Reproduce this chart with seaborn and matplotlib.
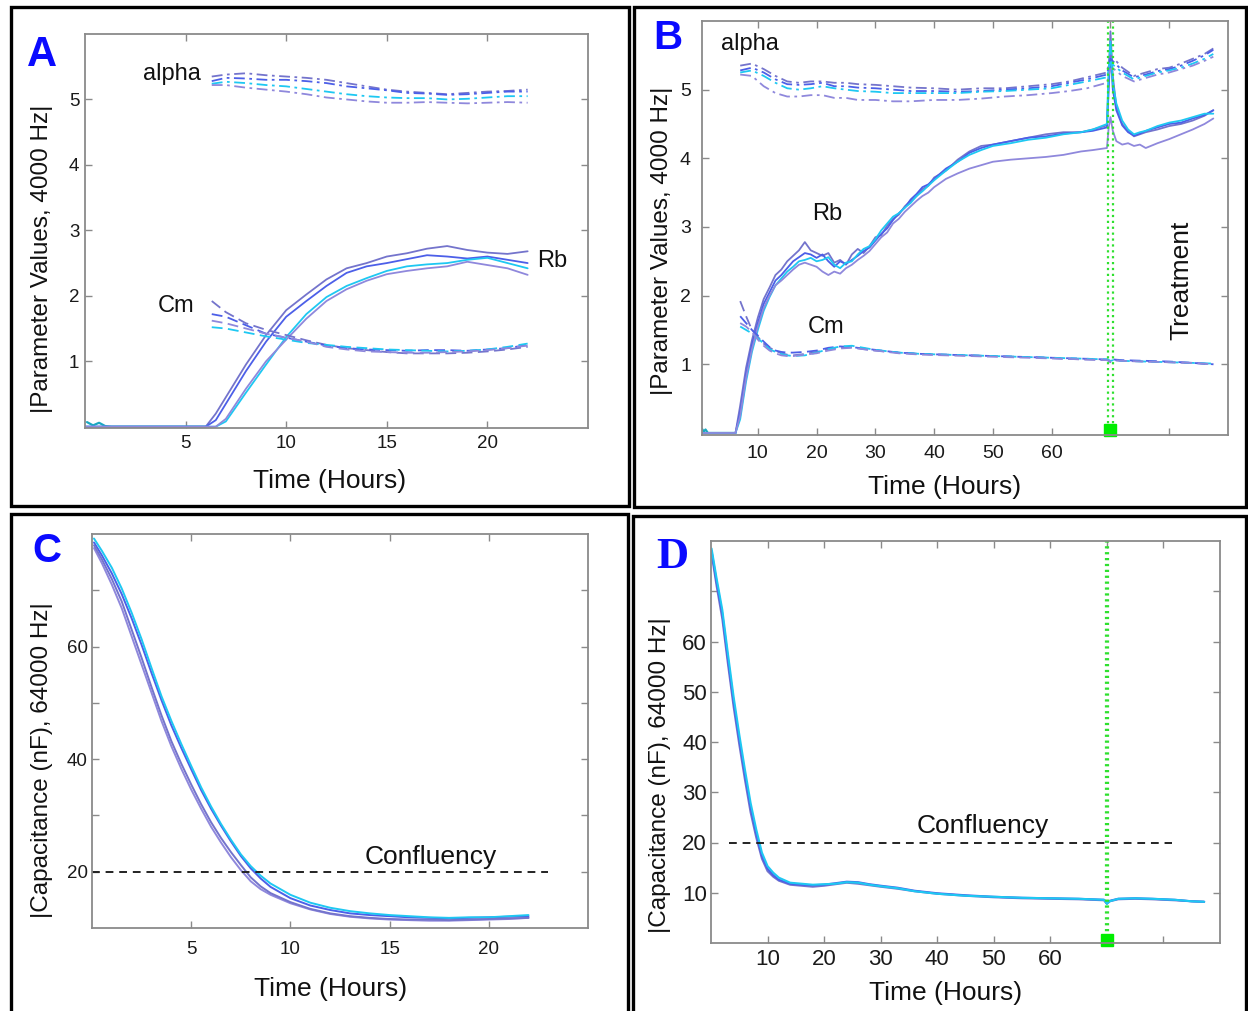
import numpy as np
import pandas as pd
import seaborn as sns
import matplotlib.pyplot as plt
from matplotlib.patches import Rectangle

sns.set_theme(style='ticks')
plt.rcParams['font.family'] = ['Liberation Sans', 'DejaVu Sans']

# line colours (4 replicate wells)
colors4 = ['#7474cc', '#4c5fe8', '#1ec8f2', '#8f88dc']
green = '#2fe02f'

# ---------------- panel A: 0-22 h, 4000 Hz parameters ----------------
a_base_t = [0.1, 0.4, 0.7, 1.0, 1.3, 6.0]
a_base_y = [0.07, 0.02, 0.06, 0.01, 0.0, 0.0]

a_rb_t = [0, 6, 6.5, 7, 7.5, 8, 9, 10, 11, 12, 13, 14, 15, 16, 17, 18, 19, 20, 21, 22]
a_rb1 = [0, 0, 0.2, 0.45, 0.7, 0.95, 1.4, 1.78, 2.02, 2.25, 2.42, 2.5, 2.6, 2.65, 2.72, 2.76, 2.7, 2.66, 2.64, 2.68]
a_rb2 = [0, 0, 0.1, 0.35, 0.6, 0.85, 1.3, 1.68, 1.92, 2.15, 2.35, 2.45, 2.5, 2.56, 2.62, 2.6, 2.57, 2.6, 2.55, 2.5]
a_rb3 = [0, 0, 0, 0.08, 0.3, 0.52, 0.95, 1.37, 1.72, 1.98, 2.15, 2.27, 2.38, 2.45, 2.48, 2.5, 2.55, 2.58, 2.5, 2.42]
a_rb4 = [0, 0, 0, 0.12, 0.35, 0.58, 1.0, 1.33, 1.65, 1.92, 2.1, 2.23, 2.33, 2.38, 2.42, 2.45, 2.52, 2.47, 2.42, 2.32]

a_cm_t = [6.3, 7, 8, 9, 10, 11, 12, 13, 14, 15, 16, 17, 18, 19, 20, 21, 22]
a_cm1 = [1.92, 1.75, 1.58, 1.48, 1.4, 1.32, 1.25, 1.2, 1.17, 1.14, 1.12, 1.12, 1.12, 1.13, 1.15, 1.18, 1.22]
a_cm2 = [1.72, 1.68, 1.55, 1.42, 1.36, 1.3, 1.24, 1.2, 1.18, 1.17, 1.16, 1.17, 1.17, 1.16, 1.18, 1.2, 1.25]
a_cm3 = [1.52, 1.5, 1.44, 1.38, 1.33, 1.28, 1.25, 1.22, 1.2, 1.18, 1.17, 1.16, 1.15, 1.16, 1.18, 1.22, 1.27]
a_cm4 = [1.62, 1.58, 1.5, 1.42, 1.36, 1.3, 1.22, 1.18, 1.15, 1.14, 1.13, 1.13, 1.14, 1.15, 1.17, 1.2, 1.24]

a_al_t = [6.3, 7, 8, 9, 10, 11, 12, 13, 14, 15, 16, 17, 18, 19, 20, 21, 22]
a_al1 = [5.35, 5.38, 5.4, 5.37, 5.35, 5.33, 5.3, 5.25, 5.2, 5.15, 5.12, 5.1, 5.08, 5.1, 5.12, 5.13, 5.15]
a_al2 = [5.28, 5.33, 5.32, 5.3, 5.3, 5.28, 5.25, 5.2, 5.17, 5.14, 5.1, 5.09, 5.07, 5.08, 5.1, 5.12, 5.12]
a_al3 = [5.24, 5.27, 5.25, 5.22, 5.2, 5.16, 5.12, 5.08, 5.05, 5.03, 5.02, 5.02, 5.0, 5.01, 5.03, 5.05, 5.05]
a_al4 = [5.22, 5.22, 5.18, 5.15, 5.12, 5.08, 5.03, 5.0, 4.97, 4.95, 4.95, 4.96, 4.95, 4.94, 4.95, 4.96, 4.95]

# ---------------- panel B: 0-88 h with treatment at 70 h ----------------
b_base_t = [0.5, 0.8, 1.1, 1.5, 6.2]
b_base_y = [0.06, 0.02, 0.05, 0.0, 0.0]

b_rb_t = [0.5, 6.2, 7, 8, 9, 10, 11, 12, 13, 14,
          15, 16, 17, 18, 19, 20, 21, 22, 23, 24, 25, 26, 27, 28, 29,
          30, 31, 32, 33, 34, 35, 36, 37, 38, 39,
          40, 42, 44, 46, 48, 50,
          53, 56, 59, 62, 65, 67,
          69.4, 69.7, 70.0, 70.4,
          71, 72, 73, 74, 75, 76,
          78, 80, 82, 84, 86, 87.5]
b_rb1 = [0, 0, 0.4, 0.95, 1.35, 1.68, 1.95, 2.12, 2.3, 2.38,
         2.5, 2.58, 2.66, 2.78, 2.66, 2.62, 2.58, 2.62, 2.48, 2.52, 2.45, 2.6, 2.68, 2.62, 2.72,
         2.85, 2.88, 3.02, 3.12, 3.18, 3.3, 3.38, 3.45, 3.55, 3.6,
         3.72, 3.82, 3.98, 4.1, 4.18, 4.2,
         4.25, 4.3, 4.35, 4.38, 4.38, 4.42,
         4.48, 5.2, 5.85, 5.2,
         4.75, 4.5, 4.4, 4.32, 4.35, 4.38,
         4.42, 4.47, 4.5, 4.55, 4.62, 4.7]
b_rb2 = [0, 0, 0.3, 0.85, 1.28, 1.6, 1.88, 2.05, 2.22, 2.3,
         2.4, 2.5, 2.56, 2.62, 2.6, 2.55, 2.6, 2.5, 2.42, 2.5, 2.46, 2.52, 2.58, 2.65, 2.7,
         2.8, 2.9, 2.98, 3.1, 3.2, 3.28, 3.4, 3.48, 3.58, 3.62,
         3.7, 3.85, 3.95, 4.08, 4.15, 4.2,
         4.25, 4.3, 4.32, 4.36, 4.38, 4.4,
         4.45, 5.0, 5.6, 5.0,
         4.7, 4.48, 4.38, 4.33, 4.36, 4.4,
         4.45, 4.5, 4.52, 4.58, 4.63, 4.7]
b_rb3 = [0, 0, 0.2, 0.75, 1.18, 1.5, 1.78, 1.98, 2.15, 2.25,
         2.35, 2.42, 2.5, 2.52, 2.55, 2.5, 2.52, 2.56, 2.45, 2.4, 2.48, 2.5, 2.6, 2.68, 2.72,
         2.82, 2.95, 3.05, 3.15, 3.2, 3.28, 3.35, 3.45, 3.52, 3.6,
         3.68, 3.82, 3.95, 4.05, 4.12, 4.18,
         4.22, 4.27, 4.3, 4.35, 4.38, 4.42,
         4.5, 5.3, 5.7, 5.1,
         4.8, 4.55, 4.42, 4.35, 4.38, 4.4,
         4.47, 4.52, 4.55, 4.6, 4.65, 4.65]
b_rb4 = [0, 0, 0.25, 0.8, 1.22, 1.55, 1.82, 2.0, 2.15, 2.22,
         2.3, 2.38, 2.45, 2.48, 2.45, 2.42, 2.35, 2.3, 2.35, 2.32, 2.4, 2.45, 2.52, 2.58, 2.65,
         2.75, 2.85, 2.92, 3.05, 3.12, 3.22, 3.3, 3.38, 3.45, 3.5,
         3.58, 3.7, 3.78, 3.85, 3.9, 3.95,
         3.98, 4.0, 4.02, 4.05, 4.1, 4.12,
         4.15, 4.45, 4.6, 4.4,
         4.25, 4.2, 4.22, 4.18, 4.2, 4.15,
         4.22, 4.28, 4.35, 4.42, 4.5, 4.58]

b_cm_t = [7, 8, 9, 10, 11, 12, 13, 14, 15, 16, 18, 20, 22, 24, 26, 28, 30, 34, 38, 42, 46, 50,
          54, 58, 62, 66, 69.5, 70, 70.5, 72, 76, 80, 84, 87.5]
b_cm1 = [1.92, 1.7, 1.5, 1.4, 1.3, 1.24, 1.2, 1.16, 1.14, 1.13, 1.15, 1.18, 1.22, 1.24, 1.25, 1.22, 1.2,
         1.17, 1.15, 1.14, 1.13, 1.12, 1.11, 1.1, 1.08, 1.07, 1.06, 1.03, 1.06, 1.05, 1.04, 1.03, 1.02, 1.0]
b_cm2 = [1.7, 1.6, 1.5, 1.42, 1.33, 1.25, 1.2, 1.18, 1.17, 1.17, 1.18, 1.2, 1.24, 1.26, 1.25, 1.23, 1.21,
         1.17, 1.15, 1.14, 1.13, 1.12, 1.11, 1.1, 1.09, 1.08, 1.07, 1.04, 1.07, 1.06, 1.05, 1.04, 1.02, 1.0]
b_cm3 = [1.55, 1.5, 1.45, 1.38, 1.3, 1.22, 1.18, 1.15, 1.13, 1.12, 1.13, 1.17, 1.22, 1.26, 1.27, 1.24, 1.21,
         1.17, 1.15, 1.14, 1.13, 1.12, 1.11, 1.1, 1.09, 1.08, 1.07, 1.05, 1.06, 1.05, 1.04, 1.03, 1.02, 1.01]
b_cm4 = [1.6, 1.55, 1.47, 1.36, 1.27, 1.2, 1.16, 1.13, 1.12, 1.12, 1.14, 1.16, 1.2, 1.23, 1.24, 1.22, 1.2,
         1.16, 1.14, 1.13, 1.12, 1.11, 1.1, 1.09, 1.08, 1.07, 1.06, 1.04, 1.06, 1.05, 1.04, 1.03, 1.02, 1.0]

b_al_t = [7, 9, 11, 13, 15, 17, 19, 21, 23, 25, 27, 30, 33, 36, 40, 44, 48, 52, 56, 60, 63, 66,
          69.4, 70.0, 70.6, 72, 74, 76, 78, 80, 82, 84, 86, 87.5]
b_al1 = [5.35, 5.38, 5.3, 5.2, 5.12, 5.1, 5.12, 5.12, 5.1, 5.1, 5.08, 5.07, 5.05, 5.03, 5.02, 5.0, 5.02,
         5.02, 5.05, 5.08, 5.12, 5.18, 5.25, 5.5, 5.45, 5.32, 5.2, 5.25, 5.3, 5.32, 5.38, 5.45, 5.52, 5.6]
b_al2 = [5.28, 5.32, 5.25, 5.15, 5.08, 5.07, 5.08, 5.1, 5.05, 5.05, 5.03, 5.02, 5.0, 4.98, 4.98, 4.97, 4.98,
         5.0, 5.02, 5.05, 5.1, 5.15, 5.22, 5.45, 5.4, 5.28, 5.18, 5.22, 5.27, 5.3, 5.35, 5.42, 5.5, 5.58]
b_al3 = [5.25, 5.28, 5.2, 5.1, 5.02, 5.0, 5.02, 5.05, 5.02, 5.0, 4.98, 4.97, 4.95, 4.95, 4.95, 4.95, 4.97,
         4.98, 5.0, 5.02, 5.07, 5.12, 5.18, 5.4, 5.35, 5.25, 5.15, 5.2, 5.25, 5.28, 5.32, 5.38, 5.45, 5.52]
b_al4 = [5.22, 5.2, 5.05, 4.95, 4.9, 4.9, 4.92, 4.92, 4.88, 4.88, 4.85, 4.85, 4.83, 4.83, 4.85, 4.85, 4.87,
         4.9, 4.92, 4.95, 4.98, 5.02, 5.1, 5.3, 5.3, 5.2, 5.12, 5.17, 5.22, 5.25, 5.3, 5.35, 5.42, 5.48]

treat_t = 70.0

# ---------------- panel C: capacitance 0-22 h ----------------
c_t = [0.1, 0.5, 1, 1.5, 2, 2.5, 3, 3.5, 4, 4.5, 5, 5.5, 6, 6.5, 7, 7.5, 8, 8.5, 9, 10, 11,
       12, 13, 14, 15, 16, 17, 18, 19, 20, 21, 22]
c_cap1 = [77.5, 74.8, 71.0, 66.8, 61.8, 56.8, 51.8, 46.8, 42.3, 38.3, 34.6, 31.2, 28.0, 25.2, 22.6, 20.3,
          18.3, 16.9, 15.9, 14.4, 13.3, 12.5, 12.0, 11.7, 11.5, 11.4, 11.3, 11.3, 11.4, 11.5, 11.6, 11.8]
c_cap2 = [78.5, 76.2, 73.0, 69.3, 65.0, 60.3, 55.3, 50.5, 46.0, 42.0, 38.2, 34.5, 31.2, 28.2, 25.4, 22.8,
          20.6, 18.8, 17.3, 15.3, 14.0, 13.2, 12.6, 12.3, 12.1, 11.9, 11.8, 11.7, 11.8, 11.9, 12.0, 12.1]
c_cap3 = [79.2, 77.0, 74.0, 70.3, 66.0, 61.3, 56.2, 51.2, 46.8, 42.7, 38.8, 35.0, 31.6, 28.5, 25.7, 23.1,
          21.0, 19.3, 17.9, 15.9, 14.5, 13.6, 13.0, 12.6, 12.3, 12.1, 11.9, 11.8, 11.9, 11.9, 12.1, 12.3]
c_cap4 = [78.0, 75.5, 72.0, 68.0, 63.0, 58.0, 52.8, 47.8, 43.2, 39.2, 35.5, 32.0, 28.8, 26.0, 23.5, 21.2,
          19.0, 17.4, 16.2, 14.6, 13.4, 12.6, 12.1, 11.8, 11.6, 11.5, 11.5, 11.4, 11.5, 11.6, 11.7, 11.8]

# ---------------- panel D: capacitance 0-88 h ----------------
d_t = [0.1, 1, 2, 3, 4, 5, 6, 7, 8, 9, 10, 11, 12, 14, 16, 18, 20, 22, 24, 26, 28, 30, 33, 36, 40,
       45, 50, 55, 60, 65, 69.5, 70, 70.5, 72, 75, 78, 82, 85, 87.2]
d_cap1 = [77.5, 71.0, 64.5, 55.5, 47.0, 39.5, 32.5, 26.0, 21.0, 16.8, 14.3, 13.2, 12.4, 11.6, 11.4, 11.2,
          11.4, 11.7, 12.0, 11.8, 11.5, 11.2, 10.8, 10.3, 9.8, 9.4, 9.1, 8.9, 8.8, 8.7, 8.5, 7.8, 8.3,
          8.7, 8.8, 8.7, 8.5, 8.3, 8.2]
d_cap2 = [78.0, 71.8, 65.5, 56.5, 48.0, 40.5, 33.5, 27.0, 21.8, 17.3, 14.8, 13.5, 12.6, 11.8, 11.6, 11.5,
          11.6, 11.9, 12.2, 12.1, 11.7, 11.4, 11.0, 10.4, 9.9, 9.5, 9.2, 9.0, 8.9, 8.8, 8.6, 7.9, 8.4,
          8.8, 8.9, 8.8, 8.6, 8.3, 8.2]
d_cap3 = [78.5, 72.5, 66.3, 57.5, 49.0, 41.5, 34.5, 27.9, 22.6, 18.0, 15.3, 14.0, 13.0, 12.0, 11.8, 11.6,
          11.7, 11.8, 12.1, 12.0, 11.6, 11.3, 10.9, 10.3, 9.8, 9.4, 9.2, 9.0, 8.9, 8.8, 8.6, 7.8, 8.3,
          8.8, 8.9, 8.8, 8.6, 8.3, 8.2]

confluency = 20

dash_cm = (0, (6, 3))
dash_al = (0, (6, 2.5, 1.5, 2.5))


def draw(ax, t, series, cols, ls='-', lw=1.3):
    for y, c in zip(series, cols):
        sns.lineplot(x=t, y=y, ax=ax, color=c, linestyle=ls, lw=lw,
                     estimator=None, sort=False, legend=False)


def style_axes(ax, xlim, ylim, xticks, xlabels, yticks, ylabels, tsize, xpad, ypad):
    ax.set_xlim(xlim)
    ax.set_ylim(ylim)
    ax.set_xticks(xticks)
    ax.set_xticklabels(xlabels)
    ax.set_yticks(yticks)
    ax.set_yticklabels(ylabels)
    ax.tick_params(direction='in', length=5, width=1, color='#8a8a8a', top=True, right=True,
                   labelsize=tsize, labelcolor='#1a1a1a')
    ax.tick_params(axis='x', pad=xpad)
    ax.tick_params(axis='y', pad=ypad)
    for s in ax.spines.values():
        s.set_visible(True)
        s.set_color('#8a8a8a')
        s.set_linewidth(1.3)


def set_labels(ax, xl, xpos, yl, ypos):
    ax.set_xlabel(xl, fontsize=19, color='#111111')
    ax.xaxis.set_label_coords(*xpos)
    ax.xaxis.label.set_va('center')
    ax.set_ylabel(yl, fontsize=17.5, color='#111111')
    ax.yaxis.set_label_coords(*ypos)
    ax.yaxis.label.set(va='center', ha='center')


fig = plt.figure(figsize=(12.48, 10.11), dpi=100)
W, H = 1248, 1011


def px_axes(l, r, t, b):
    return fig.add_axes([l / W, 1 - b / H, (r - l) / W, (b - t) / H])


# panel frames
for l, t, r, b in [(11, 7, 629, 506), (634, 7, 1246, 507), (11, 514, 628, 1016), (633, 516, 1246, 1016)]:
    fig.add_artist(Rectangle((l / W, 1 - b / H), (r - l) / W, (b - t) / H, transform=fig.transFigure,
                             fill=False, ec='black', lw=2.4))

# ---- A ----
axA = px_axes(85, 588, 34, 428)
draw(axA, a_base_t, [a_base_y], ['#1aa8c0'], lw=1.6)
draw(axA, a_rb_t, [a_rb1, a_rb2, a_rb3, a_rb4], colors4)
draw(axA, a_cm_t, [a_cm1, a_cm2, a_cm3, a_cm4], colors4, ls=dash_cm)
draw(axA, a_al_t, [a_al1, a_al2, a_al3, a_al4], colors4, ls=dash_al)
style_axes(axA, (0, 25), (-0.02, 6), [5, 10, 15, 20], ['5', '10', '15', '20'],
           [1, 2, 3, 4, 5], ['1', '2', '3', '4', '5'], 13.5, 5, 4)
set_labels(axA, 'Time (Hours)', (0.487, -0.135), '|Parameter Values, 4000 Hz|', (-0.085, 0.43))
axA.text(4.32, 5.39, 'alpha', fontsize=17, ha='center', va='center', color='#111111')
axA.text(4.52, 1.84, 'Cm', fontsize=17, ha='center', va='center', color='#111111')
axA.text(23.2, 2.53, 'Rb', fontsize=17, ha='center', va='center', color='#111111')

# ---- B ----
axB = px_axes(702, 1228, 21, 435)
draw(axB, b_base_t, [b_base_y], ['#1aa8c0'], lw=1.6)
draw(axB, b_rb_t, [b_rb1, b_rb2, b_rb3, b_rb4], colors4)
draw(axB, b_cm_t, [b_cm1, b_cm2, b_cm3, b_cm4], colors4, ls=dash_cm)
draw(axB, b_al_t, [b_al1, b_al2, b_al3, b_al4], colors4, ls=dash_al)
for xv in (treat_t - 0.35, treat_t + 0.35):
    axB.axvline(xv, color=green, ls=':', lw=1.6)
axB.plot([treat_t], [0.05], marker='s', ms=8, color='#00ee00', clip_on=False)
style_axes(axB, (0.5, 90), (-0.03, 6), list(range(10, 90, 10)),
           ['10', '20', '30', '40', '50', '60', '', ''],
           [1, 2, 3, 4, 5], ['1', '2', '3', '4', '5'], 14, 7, 8)
set_labels(axB, 'Time (Hours)', (0.462, -0.126), '|Parameter Values, 4000 Hz|', (-0.076, 0.47))
axB.text(8.6, 5.67, 'alpha', fontsize=17, ha='center', va='center', color='#111111')
axB.text(21.8, 3.19, 'Rb', fontsize=17, ha='center', va='center', color='#111111')
axB.text(21.6, 1.55, 'Cm', fontsize=17, ha='center', va='center', color='#111111')
axB.text(82, 2.22, 'Treatment', fontsize=19, rotation=90, ha='center', va='center', color='#111111')

# ---- C ----
axC = px_axes(92, 588, 534, 928)
draw(axC, c_t, [c_cap1, c_cap2, c_cap3, c_cap4], [colors4[3], colors4[1], colors4[2], colors4[0]], lw=1.4)
axC.hlines(confluency, 0, 23, colors='#222222', linestyles=(0, (4, 3)), lw=1.4)
style_axes(axC, (0, 25), (10, 80), [5, 10, 15, 20], ['5', '10', '15', '20'],
           [20, 30, 40, 50, 60, 70], ['20', '', '40', '', '60', ''], 13.5, 9, 3)
set_labels(axC, 'Time (Hours)', (0.48, -0.155), '|Capacitance (nF), 64000 Hz|', (-0.1, 0.426))
axC.text(17.05, 22.6, 'Confluency', fontsize=19, ha='center', va='center', color='#111111')

# ---- D ----
axD = px_axes(711, 1220, 541, 943)
draw(axD, d_t, [d_cap1, d_cap2, d_cap3], [colors4[0], colors4[1], colors4[2]], lw=1.5)
axD.hlines(confluency, 3.2, 81.5, colors='#222222', linestyles=(0, (4, 3)), lw=1.4)
for xv in (treat_t - 0.2, treat_t + 0.2):
    axD.axvline(xv, color=green, ls=':', lw=1.6)
axD.plot([treat_t], [0.6], marker='s', ms=8, color='#00ee00', clip_on=False)
style_axes(axD, (0, 90), (0, 80), list(range(10, 90, 10)),
           ['10', '20', '30', '40', '50', '60', '', ''],
           [10, 20, 30, 40, 50, 60, 70], ['10', '20', '30', '40', '50', '60', ''], 16, 4, 3)
set_labels(axD, 'Time (Hours)', (0.46, -0.124), '|Capacitance (nF), 64000 Hz|', (-0.1, 0.418))
axD.text(48, 23.3, 'Confluency', fontsize=19, ha='center', va='center', color='#111111')

# panel letters
fig.text(42 / W, 1 - 55 / H, 'A', fontsize=30, fontweight='bold', color='#0a0aff', ha='center', va='center')
fig.text(668 / W, 1 - 38 / H, 'B', fontsize=29, fontweight='bold', color='#0a0aff', ha='center', va='center')
fig.text(47 / W, 1 - 551 / H, 'C', fontsize=29, fontweight='bold', color='#0a0aff', ha='center', va='center')
fig.text(672 / W, 1 - 557 / H, 'D', fontsize=32, fontweight='bold', color='#0a0aff', ha='center', va='center',
         family=['Liberation Serif', 'DejaVu Serif'])

fig.savefig('out.png', dpi=100, facecolor='white')
